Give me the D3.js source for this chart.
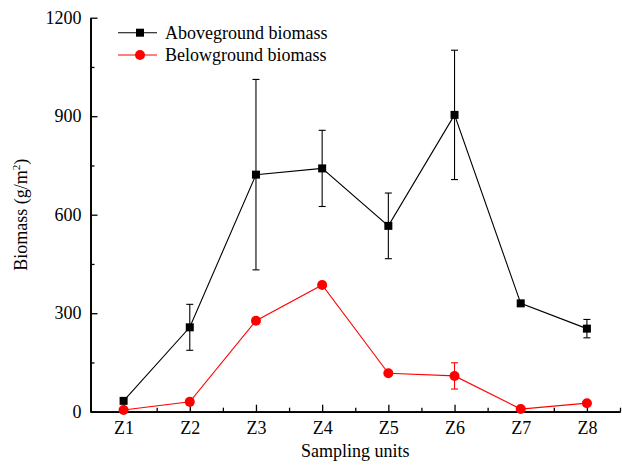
<!DOCTYPE html>
<html><head><meta charset="utf-8">
<script src="https://cdn.jsdelivr.net/npm/d3@7"></script>
<style>body{margin:0;background:#fff}svg{display:block}</style>
</head><body>
<svg id="c" width="622" height="465"></svg>
<script>
const categories = ["Z1","Z2","Z3","Z4","Z5","Z6","Z7","Z8"];
const aboveValues = [33, 257, 722, 741, 566, 904, 330, 253];
const aboveErrors = [6, 70, 290, 116, 100, 197, 8, 28];
const belowValues = [5, 30, 277, 386, 117, 109, 8, 26];
const belowErrors = [2, 6, 8, 8, 6, 40, 3, 5];
const yTicks = [0, 300, 600, 900, 1200];
const yMinorTicks = [150, 450, 750, 1050];
const seriesNames = ["Aboveground biomass", "Belowground biomass"];
const seriesColors = ["#000000", "#ff0000"];

const FONT = "Liberation Serif";
const svg = d3.select("#c");
const x = d3.scaleLinear().domain([0.5, 8.5]).range([90.5, 620]);
const y = d3.scaleLinear().domain([0, 1200]).range([411.7, 17.7]);
const FS = "18px";

// axes
const gx = svg.append("g").attr("transform", `translate(0,${y(0)})`);
gx.call(d3.axisBottom(x).tickValues(d3.range(1, 9)).tickFormat(d => categories[d - 1]).tickSize(-7).tickPadding(10).tickSizeOuter(0));
const gxm = svg.append("g").attr("transform", `translate(0,${y(0)})`);
gxm.call(d3.axisBottom(x).tickValues(d3.range(0.5, 9, 1)).tickFormat("").tickSize(-4).tickSizeOuter(0));
const gy = svg.append("g").attr("transform", `translate(${x(0.5)},0)`);
gy.call(d3.axisLeft(y).tickValues(yTicks).tickFormat(d3.format("d")).tickSize(-7).tickPadding(9).tickSizeOuter(0));
const gym = svg.append("g").attr("transform", `translate(${x(0.5)},0)`);
gym.call(d3.axisLeft(y).tickValues(yMinorTicks).tickFormat("").tickSize(-4).tickSizeOuter(0));
svg.selectAll(".domain").attr("stroke", "#000").attr("stroke-width", 1.7);
svg.selectAll(".tick line").attr("stroke", "#000").attr("stroke-width", 1.3);
svg.selectAll(".tick text").attr("font-size", FS).attr("fill", "#000");

// axis titles
svg.append("text").attr("x", (x(0.5) + x(8.5)) / 2).attr("y", 457).attr("text-anchor", "middle")
  .attr("font-size", FS).text("Sampling units");
const yt = svg.append("text").attr("transform", `translate(27,${(y(0) + y(1200)) / 2}) rotate(-90)`)
  .attr("text-anchor", "middle").attr("font-size", FS);
yt.append("tspan").text("Biomass (g/m");
yt.append("tspan").attr("font-size", "11px").attr("dy", "-7").text("2");
yt.append("tspan").attr("dy", "7").text(")");

const line = d3.line().x((d, i) => x(i + 1)).y(d => y(d));

function drawSeries(vals, errs, color, shape) {
  const g = svg.append("g");
  g.append("path").datum(vals).attr("d", line).attr("fill", "none").attr("stroke", color).attr("stroke-width", 1.1);
  vals.forEach((v, i) => {
    const cx = x(i + 1), e = errs[i];
    const eb = g.append("g").attr("stroke", color).attr("stroke-width", 1.1);
    eb.append("line").attr("x1", cx).attr("x2", cx).attr("y1", y(v + e)).attr("y2", y(v - e));
    eb.append("line").attr("x1", cx - 3.5).attr("x2", cx + 3.5).attr("y1", y(v + e)).attr("y2", y(v + e));
    eb.append("line").attr("x1", cx - 3.5).attr("x2", cx + 3.5).attr("y1", y(v - e)).attr("y2", y(v - e));
  });
  vals.forEach((v, i) => {
    const cx = x(i + 1), cy = y(v);
    if (shape === "square") g.append("rect").attr("x", cx - 4).attr("y", cy - 4).attr("width", 8).attr("height", 8).attr("fill", color);
    else g.append("circle").attr("cx", cx).attr("cy", cy).attr("r", 5).attr("fill", color);
  });
}
drawSeries(aboveValues, aboveErrors, seriesColors[0], "square");
drawSeries(belowValues, belowErrors, seriesColors[1], "circle");

// legend
const lg = svg.append("g");
seriesNames.forEach((name, i) => {
  const ly = 32.7 + i * 22.3;
  lg.append("line").attr("x1", 118).attr("x2", 157).attr("y1", ly).attr("y2", ly).attr("stroke", seriesColors[i]).attr("stroke-width", 1.1);
  if (i === 0) lg.append("rect").attr("x", 136).attr("y", ly - 4).attr("width", 8).attr("height", 8).attr("fill", seriesColors[i]);
  else lg.append("circle").attr("cx", 140).attr("cy", ly).attr("r", 5).attr("fill", seriesColors[i]);
  lg.append("text").attr("x", 165).attr("y", ly).attr("dy", "0.33em").attr("font-size", FS).text(name);
});

svg.selectAll("text").style("font-family", FONT);
</script>
</body></html>
